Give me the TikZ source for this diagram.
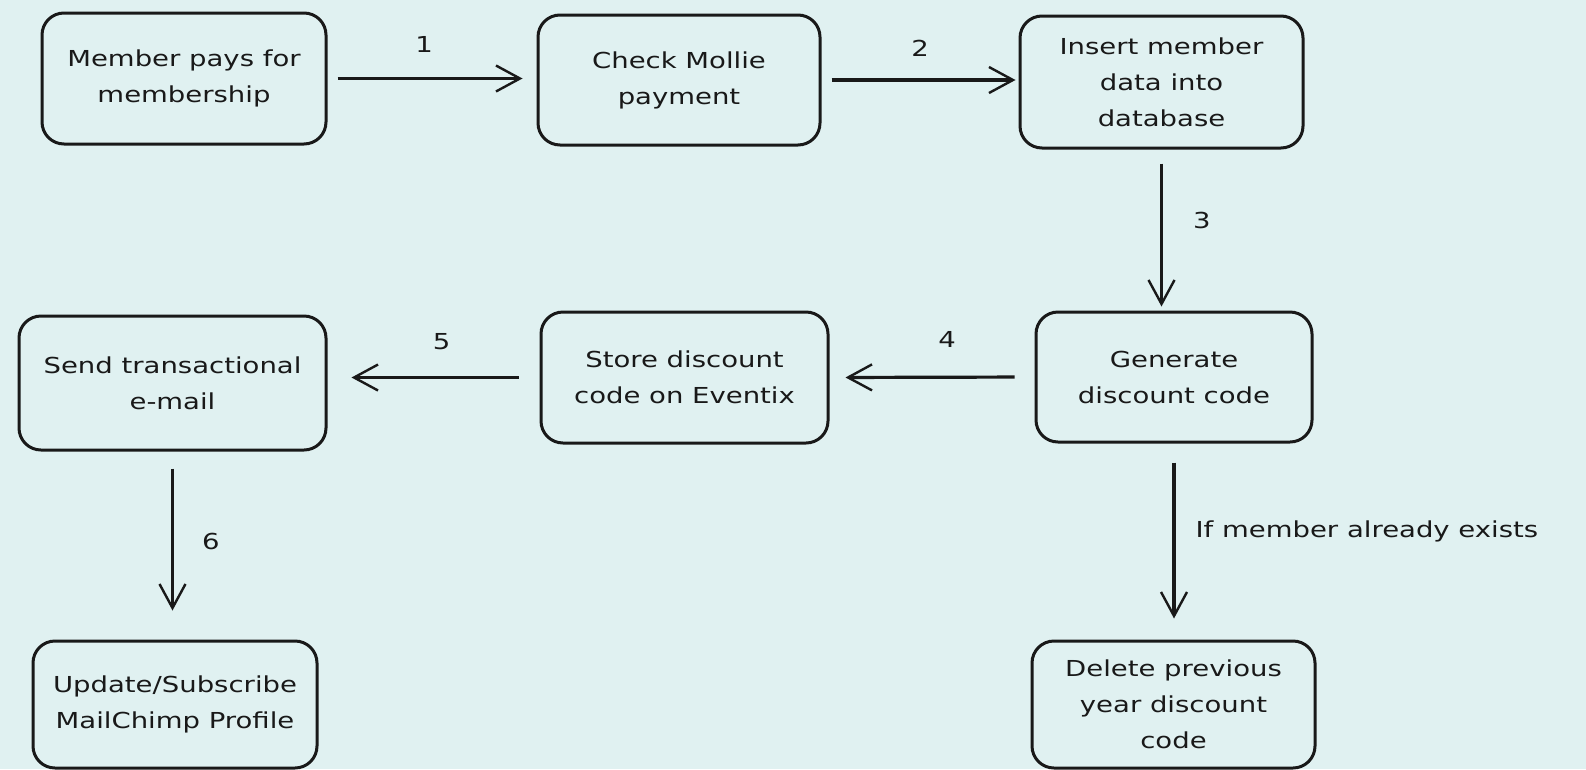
\documentclass[tikz,border=0pt]{standalone}
\usepackage{fontspec}
\setmainfont{DejaVu Sans}[FakeStretch=1.25]
\usetikzlibrary{arrows.meta,calc}
\definecolor{bg}{RGB}{224,241,241}
\definecolor{ink}{RGB}{25,25,25}
\begin{document}
\begin{tikzpicture}[x=1pt,y=-1pt,
  box/.style={draw=ink, line width=3pt, rounded corners=22pt, inner sep=0pt,
    align=center, font=\fontsize{22}{36}\selectfont, text=ink},
  conn/.style={draw=ink, line width=3.2pt,
    -{Straight Barb[length=24pt,width=26pt,line width=2.4pt]}},
  lbl/.style={font=\fontsize{22}{24}\selectfont, text=ink, inner sep=0pt}]
\fill[bg] (0,0) rectangle (1586,769);
\useasboundingbox (0,0) rectangle (1586,769);

\node[box, minimum width=284pt, minimum height=131pt] (n1) at (184,78.5) {Member pays for\\membership};
\node[box, minimum width=282pt, minimum height=130pt] (n2) at (679,80) {Check Mollie\\payment};
\node[box, minimum width=283pt, minimum height=132pt] (n3) at (1161.5,82) {Insert member\\data into\\database};
\node[box, minimum width=276pt, minimum height=130pt] (n4) at (1174,377) {Generate\\discount code};
\node[box, minimum width=287pt, minimum height=131pt] (n5) at (684.5,377.5) {Store discount\\code on Eventix};
\node[box, minimum width=307pt, minimum height=134pt] (n6) at (172.5,383) {Send transactional\\e-mail};
\node[box, minimum width=284pt, minimum height=127pt] (n7) at (175,704.5) {Update/Subscribe\\MailChimp Profile};
\node[box, minimum width=283pt, minimum height=127pt] (n8) at (1173.5,704.5) {Delete previous\\year discount\\code};

\draw[conn, shorten <=10pt, shorten >=14pt] (n1.east) -- node[lbl, above=24pt, xshift=-8pt]{1} (n1.east -| n2.west);
\draw[conn, shorten <=10pt, shorten >=3pt] (n2.east) -- node[lbl, above=22pt]{2} (n2.east -| n3.west);
\draw[conn, shorten <=14pt, shorten >=4pt] (n3.south) -- node[lbl, right=30pt, yshift=10pt]{3} (n3.south |- n4.north);
\draw[conn, shorten <=20pt, shorten >=16pt] (n4.west) -- node[lbl, above=28pt, xshift=15pt]{4} (n5.east);
\draw[conn, shorten <=21pt, shorten >=24pt] (n5.west) -- node[lbl, above=26pt, xshift=8pt]{5} (n5.west -| n6.east);
\draw[conn, shorten <=17pt, shorten >=29pt] (n6.south) -- node[lbl, right=28pt, yshift=4pt]{6} (n6.south |- n7.north);
\draw[conn, shorten <=19pt, shorten >=21pt] (n4.south) -- node[lbl, right=20pt, yshift=10pt]{If member already exists} (n4.south |- n8.north);
\end{tikzpicture}
\end{document}
